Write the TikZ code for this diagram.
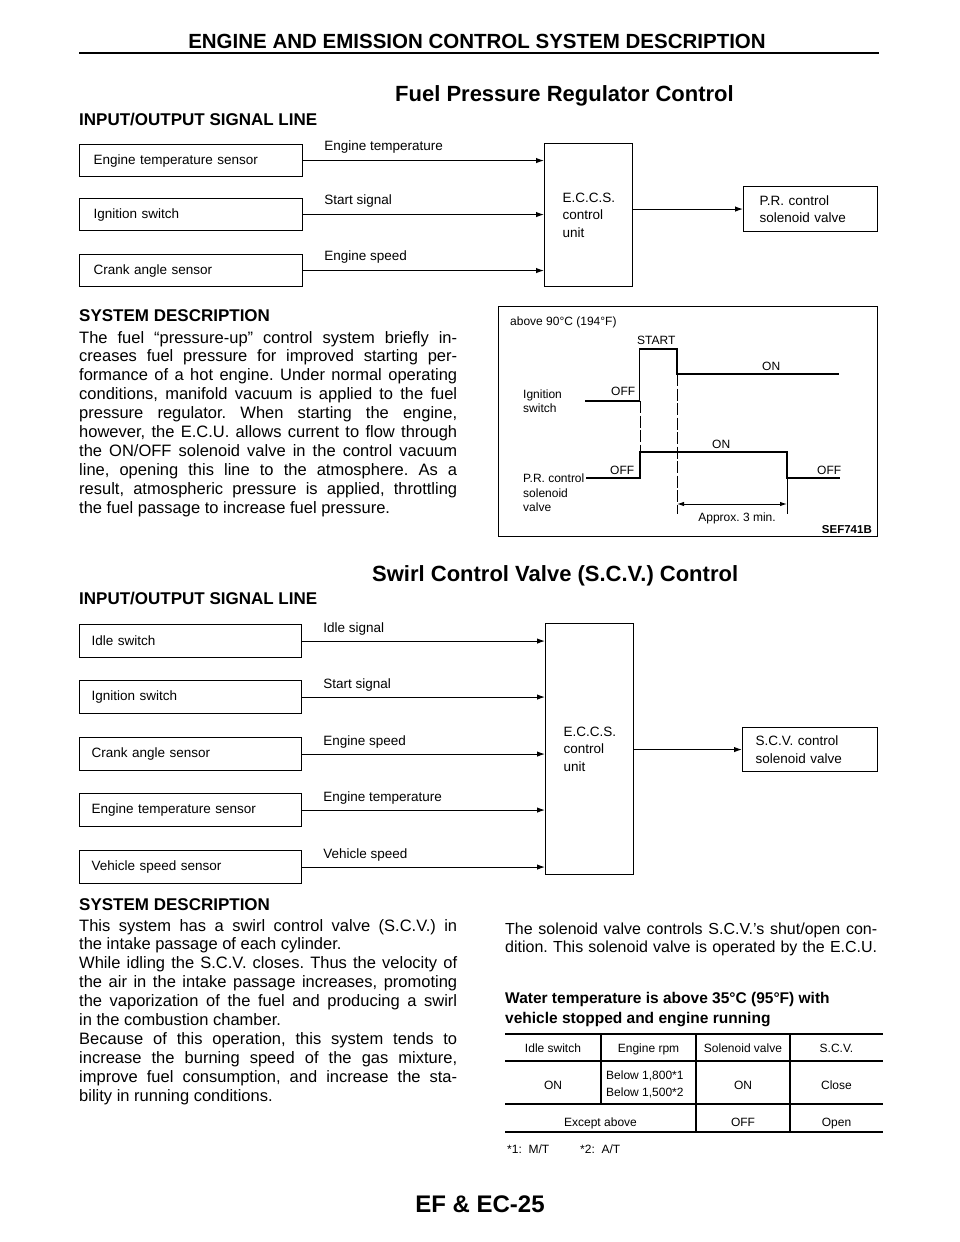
\documentclass[tikz,border=0pt]{standalone}
\usepackage{fontspec}
\setmainfont{Liberation Sans}
\usetikzlibrary{arrows.meta}
\frenchspacing
\newcommand\jusl[1]{\makebox[378pt][s]{#1}}
\newcommand\jusr[1]{\makebox[372pt][s]{#1}}
\begin{document}
\frenchspacing
\begin{tikzpicture}[x=1pt,y=-1pt,
  every node/.style={inner sep=0pt, text=black},
  hdr/.style={anchor=base, font=\fontsize{20.5}{24}\selectfont\bfseries},
  sect/.style={anchor=base west, font=\fontsize{22}{26}\selectfont\bfseries},
  sub/.style={anchor=base west, font=\fontsize{17}{20}\selectfont\bfseries},
  body/.style={anchor=base west, font=\fontsize{16.5}{18.9}\selectfont},
  bodyr/.style={anchor=base west, font=\fontsize{16}{18}\selectfont},
  wt/.style={anchor=base west, font=\fontsize{15.5}{18}\selectfont\bfseries},
  inbox/.style={draw, line width=1.1pt, anchor=north west, align=left, inner ysep=0pt, font=\fontsize{13.5}{17.5}\selectfont},
  inA/.style={inbox, text width=195pt, inner xsep=14pt, minimum height=32pt},
  inB/.style={inbox, text width=198pt, inner xsep=12pt, minimum height=33pt},
  ecu/.style={inbox, text width=52pt, inner xsep=18pt},
  arr/.style={line width=1.1pt, -{Latex[length=8pt,width=5.5pt]}},
  lbl/.style={anchor=base west, font=\fontsize{13.5}{16}\selectfont},
  tlbl/.style={anchor=base west, font=\fontsize{12}{14}\selectfont},
  wave/.style={line width=1.7pt},
  dashv/.style={line width=0.8pt, dash pattern=on 12pt off 2.5pt},
  dimarr/.style={line width=1pt, {Latex[length=7pt,width=4.5pt]}-{Latex[length=7pt,width=4.5pt]}},
  tcell/.style={anchor=base, font=\fontsize{12}{14}\selectfont},
  thick rule/.style={line width=2.4pt},
  thin rule/.style={line width=1.1pt}
]
\useasboundingbox (0,0) rectangle (960,1242);

% ---------- header ----------
\node[hdr] (title) at (477,48) {ENGINE AND EMISSION CONTROL SYSTEM DESCRIPTION};
\coordinate (ruleL) at (79,53);
\coordinate (ruleR) at (879,53);
\draw[line width=2.5pt] (ruleL) -- (ruleR);

% ---------- Fuel pressure regulator ----------
\node[sect] (fprc) at (395,101) {Fuel Pressure Regulator Control};
\node[sub] (io1) at (79,125) {INPUT/OUTPUT SIGNAL LINE};

\node[inA] (a1) at (79,144) {Engine temperature sensor};
\node[inA] (a2) at (79,198) {Ignition switch};
\node[inA] (a3) at (79,254) {Crank angle sensor};
\node[ecu, minimum height=143pt] (e1) at (544,143) {E.C.C.S.\\control\\unit};
\node[inbox, text width=102pt, inner xsep=16pt, minimum height=45pt] (pr) at (743,186) {P.R. control\\solenoid valve};

\draw[arr] (a1.east) -- (a1.east -| e1.west);
\draw[arr] (a2.east) -- (a2.east -| e1.west);
\draw[arr] (a3.east) -- (a3.east -| e1.west);
\draw[arr] (pr.west -| e1.east) -- (pr.west);
\path (a1.east) ++(21,-10) node[lbl] (la1) {Engine temperature};
\path (a2.east) ++(21,-10) node[lbl] (la2) {Start signal};
\path (a3.east) ++(21,-10) node[lbl] (la3) {Engine speed};

% ---------- system description 1 ----------
\node[sub] (sd1) at (79,321) {SYSTEM DESCRIPTION};
\node[body] (p1) at (79,343.0) {\jusl{The fuel “pressure-up” control system briefly in-}};
\node[body] (p2) at (79,361.9) {\jusl{creases fuel pressure for improved starting per-}};
\node[body] (p3) at (79,380.8) {\jusl{formance of a hot engine. Under normal operating}};
\node[body] (p4) at (79,399.7) {\jusl{conditions, manifold vacuum is applied to the fuel}};
\node[body] (p5) at (79,418.6) {\jusl{pressure regulator. When starting the engine,}};
\node[body] (p6) at (79,437.5) {\jusl{however, the E.C.U. allows current to flow through}};
\node[body] (p7) at (79,456.4) {\jusl{the ON/OFF solenoid valve in the control vacuum}};
\node[body] (p8) at (79,475.3) {\jusl{line, opening this line to the atmosphere. As a}};
\node[body] (p9) at (79,494.2) {\jusl{result, atmospheric pressure is applied, throttling}};
\node[body] (p10) at (79,513.1) {the fuel passage to increase fuel pressure.};

% ---------- timing chart ----------
\node[draw, line width=1.2pt, anchor=north west, minimum width=379pt, minimum height=230pt] (chart) at (498,306) {};
\node[tlbl] (cond) at (510,325) {above 90°C (194°F)};
\node[tlbl] (start) at (637,344) {START};
\node[tlbl] (ign1) at (523,398) {Ignition};
\node[tlbl] (ign2) at (523,412) {switch};
\node[tlbl] (ioff) at (611,395) {OFF};
\node[tlbl] (ion) at (762,370) {ON};
\node[tlbl] (prl1) at (523,482) {P.R. control};
\node[tlbl] (prl2) at (523,497) {solenoid};
\node[tlbl] (prl3) at (523,511) {valve};
\node[tlbl] (poff1) at (610,474) {OFF};
\node[tlbl] (pon) at (712,448) {ON};
\node[tlbl] (poff2) at (817,474) {OFF};
\node[anchor=base, font=\fontsize{12}{14}\selectfont] (approx) at (737,521) {Approx. 3 min.};
\node[anchor=base east, font=\fontsize{11.5}{14}\selectfont\bfseries] (sef) at (872,533) {SEF741B};

\draw[wave] (585,401) -- (639.5,401) -- (639.5,349) -- (677,349) -- (677,374) -- (839,374);
\draw[wave] (586,478) -- (640,478) -- (640,452) -- (787,452) -- (787,478) -- (840,478);
\draw[dashv] (640,401) -- (640,452);
\draw[dashv] (677,374) -- (677,514);
\draw[line width=1pt] (787,478) -- (787,514);
\coordinate (dimL) at (677,504);
\coordinate (dimR) at (787,504);
\draw[dimarr] (dimL) -- (dimR);

% ---------- Swirl control valve ----------
\node[sect] (swirl) at (372,581) {Swirl Control Valve (S.C.V.) Control};
\node[sub] (io2) at (79,604) {INPUT/OUTPUT SIGNAL LINE};

\node[inB] (b1) at (79,624) {Idle switch};
\node[inB] (b2) at (79,680) {Ignition switch};
\node[inB] (b3) at (79,737) {Crank angle sensor};
\node[inB] (b4) at (79,793) {Engine temperature sensor};
\node[inB] (b5) at (79,850) {Vehicle speed sensor};
\node[ecu, minimum height=251pt] (e2) at (545,623) {E.C.C.S.\\control\\unit};
\node[inbox, text width=109pt, inner xsep=13pt, minimum height=44pt] (scv) at (742,727) {S.C.V. control\\solenoid valve};

\draw[arr] (b1.east) -- (b1.east -| e2.west);
\draw[arr] (b2.east) -- (b2.east -| e2.west);
\draw[arr] (b3.east) -- (b3.east -| e2.west);
\draw[arr] (b4.east) -- (b4.east -| e2.west);
\draw[arr] (b5.east) -- (b5.east -| e2.west);
\draw[arr] (scv.west -| e2.east) -- (scv.west);
\path (b1.east) ++(21,-9) node[lbl] (lb1) {Idle signal};
\path (b2.east) ++(21,-9) node[lbl] (lb2) {Start signal};
\path (b3.east) ++(21,-9) node[lbl] (lb3) {Engine speed};
\path (b4.east) ++(21,-9) node[lbl] (lb4) {Engine temperature};
\path (b5.east) ++(21,-9) node[lbl] (lb5) {Vehicle speed};

% ---------- system description 2 ----------
\node[sub] (sd2) at (79,910) {SYSTEM DESCRIPTION};
\node[body] (q1) at (79,931.0) {\jusl{This system has a swirl control valve (S.C.V.) in}};
\node[body] (q2) at (79,949.9) {the intake passage of each cylinder.};
\node[body] (q3) at (79,968.8) {\jusl{While idling the S.C.V. closes. Thus the velocity of}};
\node[body] (q4) at (79,987.7) {\jusl{the air in the intake passage increases, promoting}};
\node[body] (q5) at (79,1006.6) {\jusl{the vaporization of the fuel and producing a swirl}};
\node[body] (q6) at (79,1025.5) {in the combustion chamber.};
\node[body] (q7) at (79,1044.4) {\jusl{Because of this operation, this system tends to}};
\node[body] (q8) at (79,1063.3) {\jusl{increase the burning speed of the gas mixture,}};
\node[body] (q9) at (79,1082.2) {\jusl{improve fuel consumption, and increase the sta-}};
\node[body] (q10) at (79,1101.1) {bility in running conditions.};

% ---------- right column ----------
\node[bodyr] (r1) at (505,934) {\jusr{The solenoid valve controls S.C.V.’s shut/open con-}};
\node[bodyr] (r2) at (505,952) {\jusr{dition. This solenoid valve is operated by the E.C.U.}};
\node[wt] (w1) at (505,1003) {Water temperature is above 35°C (95°F) with};
\node[wt] (w2) at (505,1023) {vehicle stopped and engine running};

% ---------- table ----------
\coordinate (tTL) at (505,1034);
\coordinate (tTR) at (883,1034);
\draw[thick rule] (tTL) -- (tTR);
\draw[thin rule] (505,1061) -- (883,1061);
\draw[thin rule] (505,1104) -- (883,1104);
\draw[thick rule] (505,1132) -- (883,1132);
\draw[thin rule] (601,1034) -- (601,1104);
\draw[thin rule] (696,1034) -- (696,1132);
\draw[thin rule] (790,1034) -- (790,1132);

\node[tcell] (h1) at (553,1052) {Idle switch};
\node[tcell] (h2) at (648.5,1052) {Engine rpm};
\node[tcell] (h3) at (743,1052) {Solenoid valve};
\node[tcell] (h4) at (836.5,1052) {S.C.V.};
\node[tcell] (c11) at (553,1089) {ON};
\node[tcell, anchor=base west] (c12a) at (606,1079) {Below 1,800*1};
\node[tcell, anchor=base west] (c12b) at (606,1096) {Below 1,500*2};
\node[tcell] (c13) at (743,1089) {ON};
\node[tcell] (c14) at (836.5,1089) {Close};
\node[tcell] (c21) at (600.5,1126) {Except above};
\node[tcell] (c23) at (743,1126) {OFF};
\node[tcell] (c24) at (836.5,1126) {Open};
\node[tcell, anchor=base west] (fn1) at (507,1153) {*1:\ \ M/T};
\node[tcell, anchor=base west] (fn2) at (580,1153) {*2:\ \ A/T};

% ---------- footer ----------
\node[anchor=base, font=\fontsize{24}{28}\selectfont\bfseries] (foot) at (480,1212) {EF \& EC-25};
\end{tikzpicture}
\end{document}
